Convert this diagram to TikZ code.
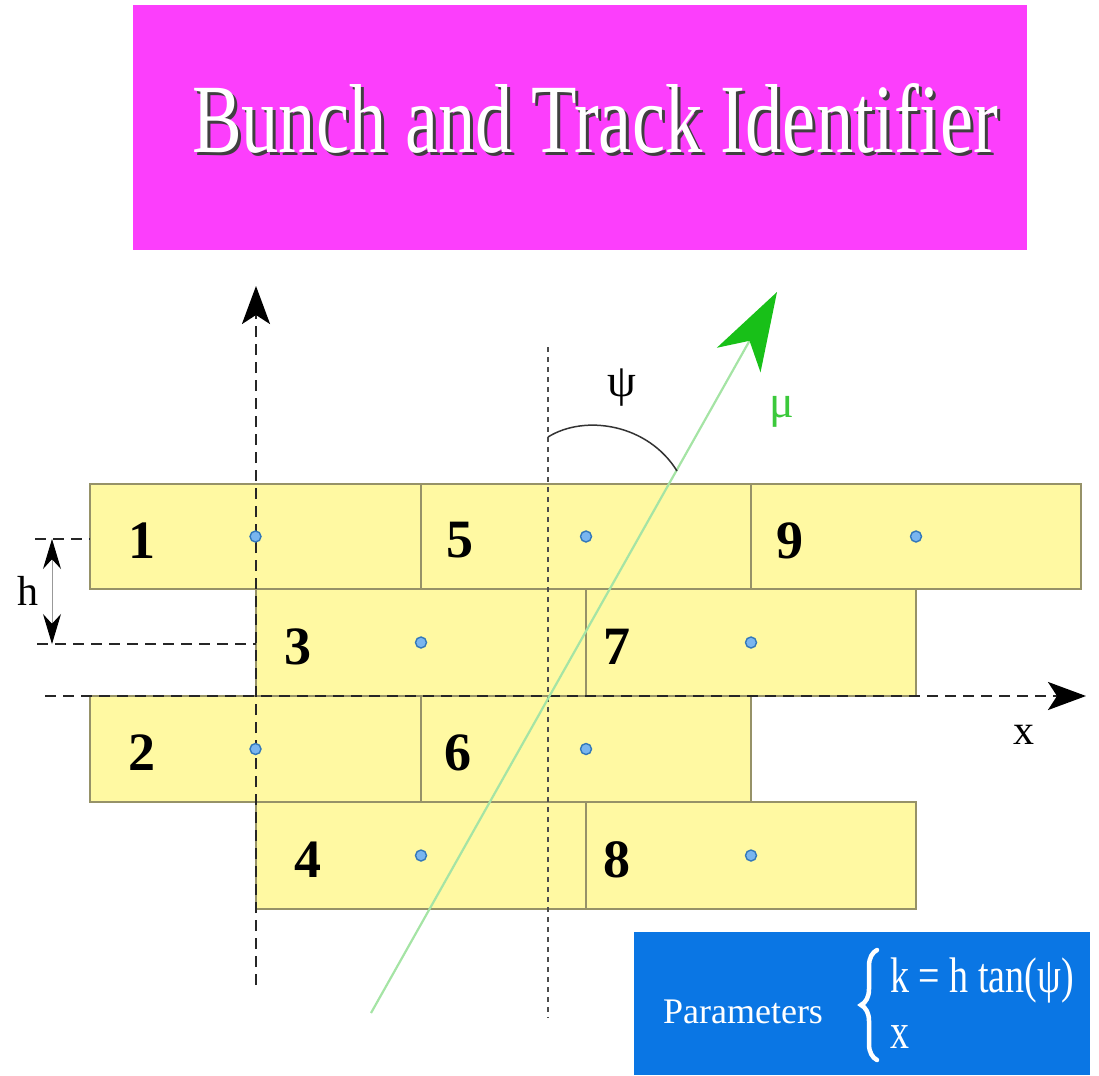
\documentclass[tikz,border=0pt]{standalone}
\usepackage{fontspec}
\setmainfont{Liberation Serif}
\newfontfamily\narrowserif[FakeStretch=0.76]{Liberation Serif}
\usetikzlibrary{arrows.meta,decorations.pathreplacing}
\definecolor{banner}{RGB}{252,62,252}
\definecolor{cellfill}{RGB}{255,249,162}
\definecolor{celledge}{RGB}{150,146,104}
\definecolor{panelblue}{RGB}{10,118,228}
\definecolor{track}{RGB}{165,228,165}
\definecolor{trackhead}{RGB}{24,192,24}
\definecolor{padblue}{RGB}{64,150,232}

\begin{document}
\begin{tikzpicture}[
  x=1pt,y=-1pt,
  cell/.style={draw=celledge,line width=1.8pt,fill=cellfill},
  num/.style={font=\fontsize{54}{54}\selectfont\bfseries,inner sep=0pt},
  pad/.style={circle,draw=padblue!80!black,fill=padblue!70,line width=1.4pt,
              minimum size=11pt,inner sep=0pt},
  axis/.style={line width=2.6pt,black!85,dash pattern=on 11pt off 7pt},
  guide/.style={line width=1.2pt,black!70,dash pattern=on 5pt off 5pt},
  lbl/.style={font=\fontsize{42}{42}\selectfont,inner sep=0pt},
  paneltext/.style={text=white,inner sep=0pt},
  bigtip/.style={-{Stealth[length=38pt,width=28pt,inset=9pt,black]}},
]
\useasboundingbox (0,0) rectangle (1099,1075);

% ============================ TITLE ============================
\fill[banner] (133,5) rectangle (1027,250);
\node[font=\narrowserif\fontsize{98}{98}\selectfont,text=black!75,
      inner sep=0pt,anchor=base] (titleshade) at (598,156)
      {Bunch and Track Identifier};
\node[font=\narrowserif\fontsize{98}{98}\selectfont,text=white,
      inner sep=0pt,anchor=base] (title) at (595,153)
      {Bunch and Track Identifier};

% ============================ CELLS ============================
% number / left / top / right / bottom / label offset
\foreach \n/\xa/\ya/\xb/\yb/\dx in {1/90/484/421/589/52, 5/421/484/751/589/39,
    9/751/484/1081/589/39, 3/256/589/586/696/42, 7/586/589/916/696/31,
    2/90/696/421/802/52, 6/421/696/751/802/37,
    4/256/802/586/909/52, 8/586/802/916/909/31}{
  \draw[cell] (\xa,\ya) rectangle (\xb,\yb);
  \node[num] (num\n) at (\xa+\dx,{(\ya+\yb)/2+4}) {\n};
  \coordinate (c\n) at ({(\xa+\xb)/2},{(\ya+\yb)/2});
}

% ---- axes ----
\coordinate (yfoot) at (256,985);
\coordinate (ytip)  at (256,286);
\coordinate (xfoot) at (45,696);
\coordinate (xtip)  at (1086,696);
\draw[axis,bigtip] (yfoot) -- (ytip);
\draw[axis,bigtip] (xfoot) -- (xtip);
\node[lbl] (xlabel) at (1024,735) {x};

% ---- centre line of the track ----
\coordinate (gtop) at (548,347);
\coordinate (gbot) at (548,1018);
\draw[guide] (gtop) -- (gbot);

% pads at the cell centres
\foreach \n in {1,...,9}{
  \node[pad] (pad\n) at (c\n) {};
}

% ---- layer height h ----
\coordinate (hup)  at (52,539);
\coordinate (hlow) at (52,644);
\draw[axis] (35,539) -- (90,539);
\draw[axis] (37,644) -- (256,644);
\draw[line width=1pt,black!40,
      {Stealth[length=30pt,width=18pt,black]}-{Stealth[length=30pt,width=18pt,black]}]
      (hup) -- (hlow);
\node[lbl] (hlabel) at (28,591) {h};

% ---- muon track and angle ----
\coordinate (mufoot) at (371,1013);
\coordinate (mutip)  at (777,292);
\draw[track,line width=2.2pt,
      -{Stealth[length=78pt,width=50pt,inset=22pt,trackhead]}] (mufoot) -- (mutip);
\coordinate (arcA) at (548,437);
\coordinate (arcB) at (677,471);
\draw[line width=1.5pt,black!80] (arcA) .. controls (585,414) and (648,424) .. (arcB);
\node[font=\fontsize{46}{46}\selectfont,inner sep=0pt] (psilabel) at (622,388) {ψ};
\node[font=\fontsize{46}{46}\selectfont,inner sep=0pt,text=trackhead!85!white]
      (mulabel) at (782,412) {μ};

% ============================ PARAMETERS ============================
\fill[panelblue] (634,932) rectangle (1090,1075);
\node[paneltext,font=\fontsize{36}{36}\selectfont,anchor=base] (partitle)
      at (743,1023) {Parameters};
\coordinate (brbot) at (877,1060);
\coordinate (brtop) at (877,950);
\draw[decorate,decoration={brace,amplitude=16pt},
      line width=4.5pt,line cap=round,white] (brbot) -- (brtop);
\node[paneltext,font=\narrowserif\fontsize{50}{50}\selectfont,anchor=base west]
      (kline) at (890,992) {k = h tan(ψ)};
\node[paneltext,font=\narrowserif\fontsize{50}{50}\selectfont,anchor=base west]
      (xline) at (890,1048) {x};

\end{tikzpicture}
\end{document}
